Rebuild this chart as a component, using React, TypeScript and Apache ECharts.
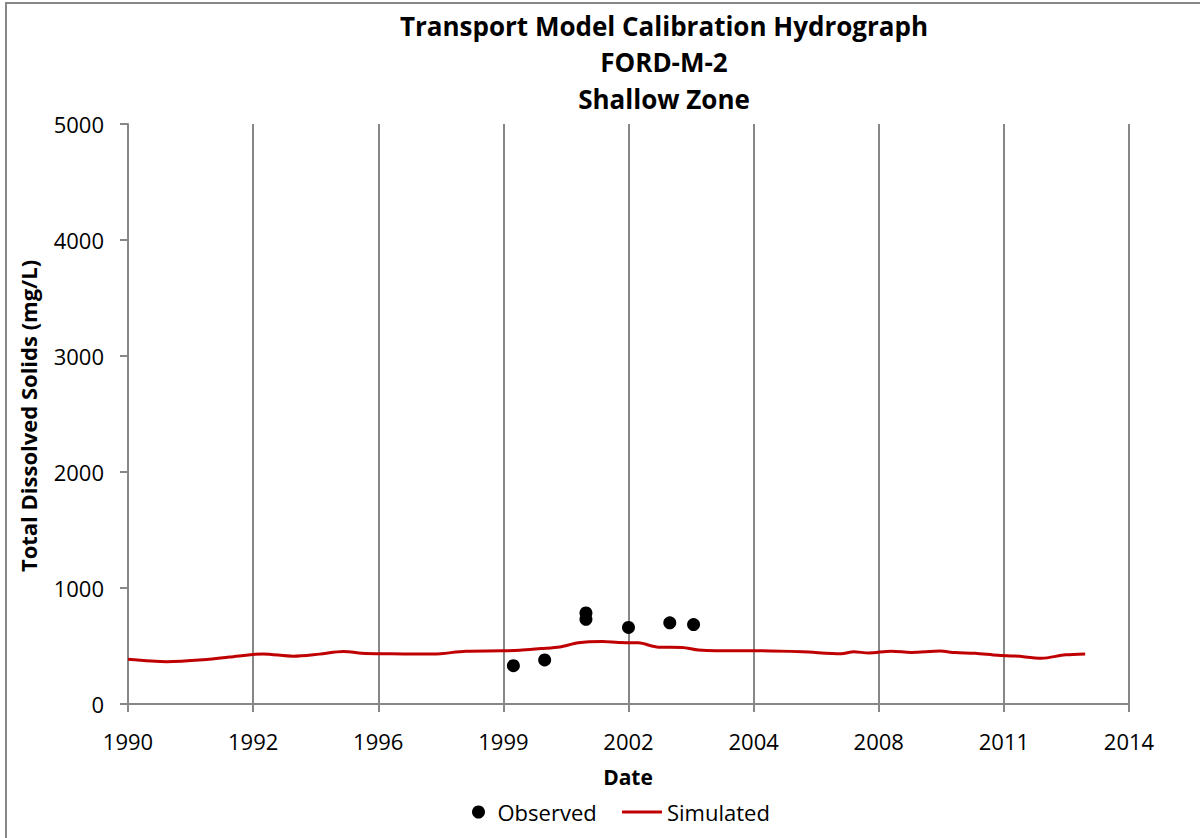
import React, { useEffect, useRef } from "react";
import * as echarts from "echarts";

// Tick labels of the date axis, one per major division
const TICK_LABELS = ["1990", "1992", "1996", "1999", "2002", "2004", "2008", "2011", "2014"];

// Simulated TDS (mg/L); x is measured in major divisions of the date axis
const SIM_X = [0.0, 0.31, 0.63, 0.81, 1.08, 1.32, 1.53, 1.72, 1.9, 2.2, 2.44, 2.7, 2.99, 3.13, 3.3, 3.45, 3.6, 3.79, 3.92, 4.08, 4.24, 4.43, 4.56, 4.88, 4.99, 5.39, 5.7, 5.8, 5.92, 6.1, 6.26, 6.49, 6.61, 6.77, 6.95, 7.09, 7.3, 7.49, 7.65];
const SIM_Y = [385, 365, 384, 405, 432, 412, 430, 452, 435, 432, 430, 455, 458, 463, 478, 492, 528, 538, 530, 527, 490, 488, 466, 458, 459, 450, 434, 450, 440, 455, 445, 456, 443, 438, 420, 414, 394, 424, 432];

// Observed TDS samples (mg/L)
const OBS_X = [3.08, 3.33, 3.66, 3.66, 4.0, 4.33, 4.52];
const OBS_Y = [330, 380, 785, 730, 660, 700, 685];

const FONT = "'Open Sans', 'Liberation Sans', sans-serif";
const GRID_GRAY = "#878787";

export default function App() {
  const ref = useRef<HTMLDivElement>(null);

  useEffect(() => {
    if (!ref.current) return;
    const chart = echarts.init(ref.current, null, { renderer: "svg" });

    const simulated = SIM_X.map((x, i) => [x, SIM_Y[i]]);
    const observed = OBS_X.map((x, i) => [x, OBS_Y[i]]);

    const titleText = (text: string, y: number) => ({
      type: "text",
      x: 664,
      y,
      style: {
        text,
        fill: "#000",
        font: `bold 26px ${FONT}`,
        textAlign: "center",
        textVerticalAlign: "middle",
      },
    });

    chart.setOption({
      animation: false,
      backgroundColor: "#ffffff",
      grid: { left: 128, right: 71, top: 124, bottom: 134, containLabel: false },
      xAxis: {
        type: "value",
        min: 0,
        max: TICK_LABELS.length - 1,
        interval: 1,
        axisLine: { show: true, lineStyle: { color: GRID_GRAY, width: 2 } },
        axisTick: { show: true, length: 8, lineStyle: { color: GRID_GRAY, width: 2 } },
        axisLabel: {
          margin: 26,
          color: "#000",
          fontFamily: FONT,
          fontSize: 22,
          formatter: (v: number) => TICK_LABELS[Math.round(v)] ?? "",
        },
        splitLine: { show: true, lineStyle: { color: GRID_GRAY, width: 2 } },
      },
      yAxis: {
        type: "value",
        min: 0,
        max: 5000,
        interval: 1000,
        axisLine: { show: true, lineStyle: { color: GRID_GRAY, width: 2 } },
        axisTick: { show: true, length: 8, lineStyle: { color: GRID_GRAY, width: 2 } },
        axisLabel: {
          margin: 24,
          color: "#000",
          fontFamily: FONT,
          fontSize: 22,
          formatter: (v: number) => String(v),
        },
        splitLine: { show: false },
      },
      legend: [
        {
          data: [{ name: "Observed", icon: "circle" }],
          left: 467,
          top: 796,
          itemWidth: 28,
          itemHeight: 13,
          textStyle: { color: "#000", fontFamily: FONT, fontSize: 22 },
        },
        {
          data: [{ name: "Simulated", icon: "rect" }],
          left: 617,
          top: 796,
          itemWidth: 40,
          itemHeight: 3,
          textStyle: { color: "#000", fontFamily: FONT, fontSize: 22 },
        },
      ],
      graphic: [
        {
          type: "rect",
          shape: { x: 6, y: 3, width: 1200, height: 840 },
          style: { fill: "none", stroke: GRID_GRAY, lineWidth: 2 },
          silent: true,
        },
        titleText("Transport Model Calibration Hydrograph", 26),
        titleText("FORD-M-2", 62),
        titleText("Shallow Zone", 99),
        {
          type: "text",
          x: 28,
          y: 416,
          rotation: Math.PI / 2,
          style: {
            text: "Total Dissolved Solids (mg/L)",
            fill: "#000",
            font: `bold 22px ${FONT}`,
            textAlign: "center",
            textVerticalAlign: "middle",
          },
        },
        {
          type: "text",
          x: 628,
          y: 777,
          style: {
            text: "Date",
            fill: "#000",
            font: `bold 21px ${FONT}`,
            textAlign: "center",
            textVerticalAlign: "middle",
          },
        },
      ],
      series: [
        {
          name: "Observed",
          type: "scatter",
          data: observed,
          symbol: "circle",
          symbolSize: 13,
          itemStyle: { color: "#000", opacity: 1 },
          z: 3,
        },
        {
          name: "Simulated",
          type: "line",
          data: simulated,
          symbol: "none",
          smooth: 0.3,
          lineStyle: { color: "#C00000", width: 3 },
          itemStyle: { color: "#C00000" },
          z: 2,
        },
      ],
    });

    return () => chart.dispose();
  }, []);

  return (
    <div
      ref={ref}
      style={{ position: "fixed", left: 0, top: 0, width: 1200, height: 838, background: "#fff" }}
    />
  );
}
